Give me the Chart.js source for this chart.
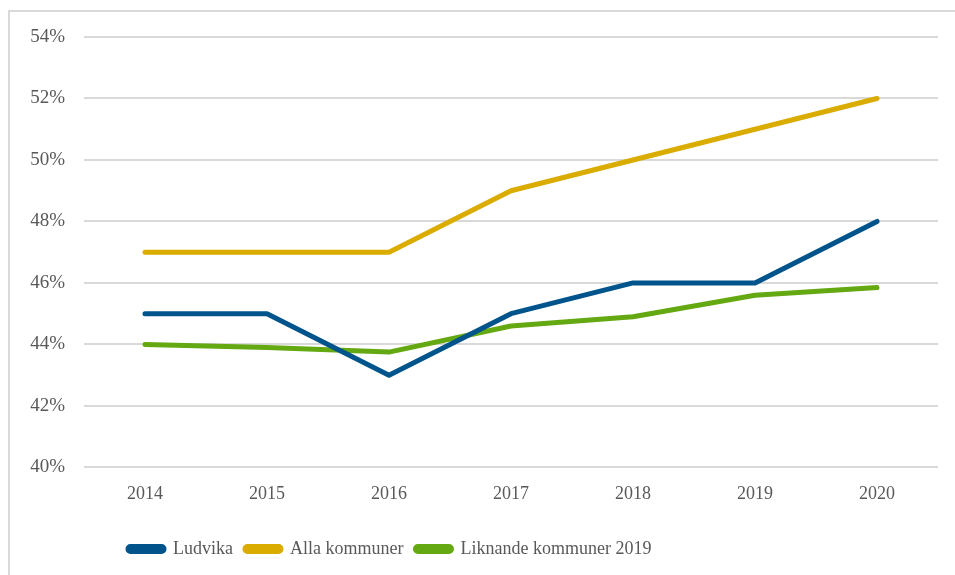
<!DOCTYPE html>
<html>
<head>
<meta charset="utf-8">
<script src="https://cdn.jsdelivr.net/npm/chart.js@4/dist/chart.umd.min.js"></script>
<style>
  html, body { margin: 0; padding: 0; background: #fff; overflow: hidden; }
  #wrap { position: relative; width: 955px; height: 575px; overflow: hidden; }
  #frame { position: absolute; left: 8px; top: 10px; width: 1000px; height: 600px; border: 2px solid #d9d9d9; box-sizing: border-box; }
  canvas { position: absolute; left: 0; top: 0; }
</style>
</head>
<body>
<div id="wrap">
  <div id="frame"></div>
  <canvas id="chart" width="955" height="575"></canvas>
</div>
<script>
    'use strict';

    const years = ['2014', '2015', '2016', '2017', '2018', '2019', '2020'];
    const ludvika = [45, 45, 43, 45, 46, 46, 48];
    const allaKommuner = [47, 47, 47, 49, 50, 51, 52];
    const liknandeKommuner = [44, 43.9, 43.75, 44.6, 44.9, 45.6, 45.85];

    const serif = '"Liberation Serif", "DejaVu Serif", serif';
    const textGray = '#595959';
    const gridGray = '#d9d9d9';

    function series(label, data, color) {
        return {
            label: label,
            data: data,
            borderColor: color,
            backgroundColor: color,
            borderWidth: 5,
            pointRadius: 0,
            pointHoverRadius: 0,
            tension: 0,
            borderCapStyle: 'round',
            borderJoinStyle: 'round'
        };
    }

    // Excel puts the legend left of centre; nudge it after layout
    const legendShift = {
        id: 'legendShift',
        beforeDraw(chart) {
            const legend = chart.legend;
            if (legend && !legend._shifted) {
                legend.left += 116;
                legend.right += 116;
                legend._shifted = true;
            }
        }
    };

    const ctx = document.getElementById('chart').getContext('2d');
    new Chart(ctx, {
        type: 'line',
        data: {
            labels: years,
            datasets: [
                series('Ludvika', ludvika, '#00548c'),
                series('Alla kommuner', allaKommuner, '#dbac00'),
                series('Liknande kommuner 2019', liknandeKommuner, '#64a812')
            ]
        },
        options: {
            responsive: false,
            animation: false,
            layout: {
                padding: { top: 37, right: 17, left: 0, bottom: 7 }
            },
            plugins: {
                tooltip: { enabled: false },
                legend: {
                    position: 'bottom',
                    align: 'start',
                    labels: {
                        font: { family: serif, size: 18 },
                        color: textGray,
                        boxWidth: 36,
                        boxHeight: 5,
                        useBorderRadius: true,
                        borderRadius: 2.5,
                        padding: 12
                    }
                }
            },
            scales: {
                x: {
                    offset: true,
                    afterFit: (scale) => { scale.height += 7; },
                    grid: { display: false, drawTicks: false },
                    border: { display: false },
                    ticks: {
                        font: { family: serif, size: 18 },
                        color: textGray,
                        padding: 16,
                        maxRotation: 0
                    }
                },
                y: {
                    min: 40,
                    max: 54,
                    afterFit: (scale) => { scale.width = 84; },
                    grid: { color: gridGray, lineWidth: 2, drawTicks: false },
                    border: { display: false },
                    ticks: {
                        stepSize: 2,
                        font: { family: serif, size: 19 },
                        color: textGray,
                        padding: 19,
                        callback: (value) => value + '%'
                    }
                }
            }
        },
        plugins: [legendShift]
    });
</script>
</body>
</html>
